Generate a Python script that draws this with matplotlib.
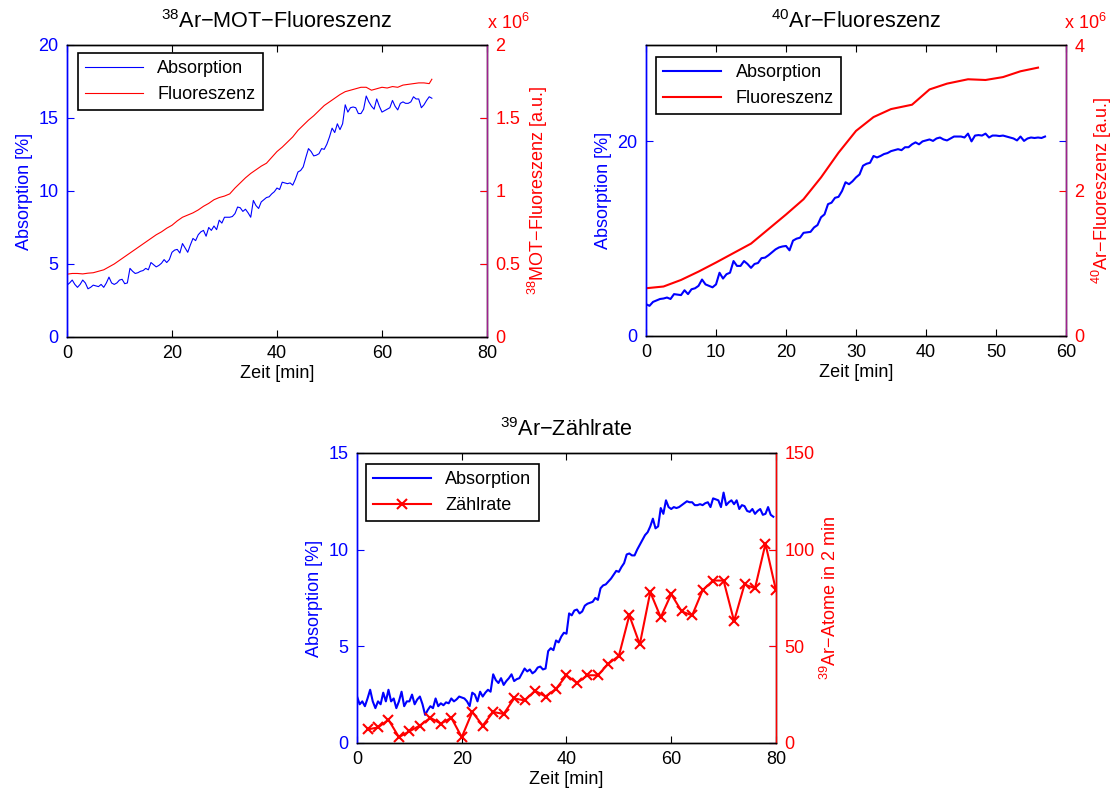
import matplotlib
matplotlib.use('Agg')
import matplotlib.pyplot as plt
import numpy as np

plt.rcParams['font.family'] = ['Liberation Sans', 'DejaVu Sans']
plt.rcParams['mathtext.default'] = 'regular'
plt.rcParams['font.size'] = 13

# 38Ar panel: absorption every 0.5 min, fluorescence (x 1e6) every min
abs38 = [3.55, 3.7, 3.9, 3.6, 3.4, 3.6, 3.9, 3.7, 3.3, 3.4, 3.55, 3.5, 3.45, 3.6, 3.4, 3.7,
         4.1, 3.7, 3.6, 3.7, 3.9, 3.95, 3.65, 3.7, 4.7, 4.5, 4.35, 4.4, 4.5, 4.55, 4.7, 4.6,
         5.1, 4.95, 4.8, 4.9, 5.05, 5.3, 5.1, 5.3, 5.8, 5.95, 6.0, 5.75, 6.4, 6.1, 5.8, 6.3,
         6.75, 6.6, 7.0, 7.2, 7.3, 6.9, 7.5, 7.3, 7.6, 7.35, 8.0, 7.8, 8.2, 8.2, 8.2, 8.25,
         8.45, 8.9, 8.85, 8.6, 8.75, 8.5, 8.2, 9.35, 9.0, 8.8, 9.25, 9.4, 9.55, 9.6, 9.8, 9.95,
         10.2, 10.1, 10.6, 10.55, 10.5, 10.55, 10.4, 10.8, 11.3, 11.4, 11.65, 12.3, 12.9, 12.7,
         12.4, 12.45, 12.55, 12.9, 12.85, 13.2, 13.7, 14.3, 14.0, 14.6, 14.2, 14.6, 15.9, 15.4,
         15.7, 15.75, 15.7, 15.3, 15.3, 15.6, 16.5, 16.1, 15.8, 15.6, 16.3, 15.8, 15.4, 15.5,
         15.6, 15.7, 16.2, 15.8, 15.55, 16.0, 16.1, 16.0, 16.0, 16.1, 16.45, 16.3, 16.3, 15.7,
         15.9, 16.2, 16.45, 16.35]
t_abs38 = np.arange(len(abs38)) * 0.5

fl38 = [0.43, 0.435, 0.435, 0.432, 0.437, 0.44, 0.45, 0.46, 0.48, 0.50, 0.525, 0.55, 0.575,
        0.60, 0.625, 0.65, 0.675, 0.70, 0.72, 0.745, 0.765, 0.795, 0.82, 0.835, 0.85, 0.87,
        0.895, 0.915, 0.94, 0.955, 0.965, 0.98, 1.02, 1.055, 1.09, 1.12, 1.145, 1.17, 1.19,
        1.23, 1.27, 1.30, 1.335, 1.37, 1.415, 1.45, 1.485, 1.515, 1.55, 1.585, 1.61, 1.635,
        1.66, 1.68, 1.69, 1.70, 1.71, 1.71, 1.69, 1.70, 1.71, 1.705, 1.715, 1.71, 1.725,
        1.73, 1.735, 1.74, 1.74, 1.735, 1.765]
t_fl38 = list(range(70)) + [69.5]

# 40Ar panel
abs40 = [3.26, 3.1, 3.5, 3.65, 3.8, 3.85, 3.95, 3.8, 4.3, 4.25, 4.2, 4.7, 4.3, 4.8, 4.9, 5.15,
         5.8, 5.3, 5.15, 5.0, 5.3, 6.5, 5.9, 6.35, 6.5, 7.7, 7.2, 7.2, 7.7, 7.4, 7.0, 7.4,
         7.5, 8.0, 8.05, 8.3, 8.6, 8.9, 9.1, 9.2, 9.25, 8.8, 9.8, 10.0, 10.1, 10.6, 10.65, 10.7,
         11.15, 11.4, 12.2, 12.5, 13.55, 13.7, 14.2, 14.3, 14.9, 15.8, 15.6, 15.9, 16.3, 16.6,
         17.5, 17.7, 17.8, 18.5, 18.35, 18.5, 18.7, 18.8, 19.0, 19.1, 19.2, 19.1, 19.4, 19.4,
         19.7, 19.9, 19.7, 20.0, 20.1, 20.2, 20.05, 20.3, 20.4, 20.2, 20.1, 20.3, 20.5, 20.5,
         20.5, 20.4, 20.8, 20.0, 20.6, 20.65, 20.6, 20.8, 20.4, 20.6, 20.6, 20.55, 20.6, 20.5,
         20.4, 20.3, 20.1, 20.5, 20.05, 20.3, 20.4, 20.35, 20.4, 20.35, 20.5]
t_abs40 = np.arange(len(abs40)) * 0.5

t_fl40 = [0, 2.5, 5, 7.5, 10, 12.5, 15, 17.5, 20, 22.5, 25, 27.5, 30, 32.5, 35, 38, 40.5,
          43, 46, 48.5, 51, 53.5, 56]
fl40 = [0.656, 0.68, 0.77, 0.885, 1.01, 1.14, 1.27, 1.47, 1.67, 1.88, 2.18, 2.52, 2.82,
        3.01, 3.12, 3.18, 3.39, 3.47, 3.53, 3.52, 3.56, 3.64, 3.69]

# 39Ar panel
abs39 = [2.4, 2.0, 2.15, 1.9, 2.3, 2.75, 2.15, 1.8, 2.15, 2.0, 2.6, 2.15, 2.75, 2.15, 2.3, 1.8,
         2.15, 2.65, 1.9, 2.15, 2.15, 2.5, 2.0, 2.25, 2.4, 2.0, 1.45, 1.7, 1.9, 1.8, 2.3, 1.9,
         2.05, 1.95, 2.1, 2.05, 2.3, 2.15, 2.25, 2.4, 2.35, 2.3, 2.15, 1.9, 2.6, 2.5, 2.15, 2.65,
         2.4, 2.6, 2.75, 2.65, 3.55, 3.25, 3.1, 3.35, 3.0, 3.2, 3.35, 3.55, 3.2, 3.3, 3.35, 3.6,
         3.85, 3.7, 3.8, 3.6, 3.7, 3.9, 3.95, 3.8, 3.85, 4.75, 4.9, 4.8, 5.3, 5.2, 5.5, 5.7,
         5.65, 6.7, 6.6, 6.85, 6.9, 6.7, 6.8, 7.1, 7.2, 7.25, 7.3, 7.5, 7.4, 8.0, 8.15, 8.2,
         8.35, 8.5, 8.7, 8.9, 8.85, 9.1, 9.3, 9.75, 9.8, 9.7, 9.7, 10.0, 10.25, 10.5, 10.75, 10.9,
         11.2, 11.6, 11.1, 11.2, 12.15, 11.85, 12.55, 12.2, 12.1, 12.2, 12.15, 12.2, 12.3, 12.4,
         12.5, 12.45, 12.45, 12.3, 12.3, 12.35, 12.3, 12.4, 12.45, 12.2, 12.65, 12.6, 12.55, 12.2,
         12.95, 12.3, 12.45, 12.55, 12.35, 12.55, 12.1, 12.3, 12.25, 12.0, 11.95, 12.1, 11.85, 12.0,
         12.1, 11.8, 11.85, 12.2, 11.8, 11.7]
t_abs39 = np.arange(len(abs39)) * 0.5

t_count = np.arange(2, 81, 2)
counts = [7, 8, 12, 3, 6, 9, 13, 10, 13, 3, 16, 9, 16, 15, 23, 22, 27, 24, 28, 35,
          31, 35, 35, 41, 45, 66, 51, 78, 65, 77, 68, 66, 79, 84, 84, 63, 82, 80, 103, 79]

blue = '#0000ff'
red = '#ff0000'
purple = '#a0208f'


def style(ax, ax2, rcol):
    ax.tick_params(axis='y', colors=blue, direction='in', length=5, right=True, pad=6)
    ax.tick_params(axis='x', colors='black', direction='in', length=5, top=True, pad=6)
    ax2.tick_params(axis='y', colors=red, direction='in', length=5, pad=6)
    ax.spines['left'].set_color(blue)
    ax2.spines['left'].set_color(blue)
    ax2.spines['right'].set_color(rcol)
    for a in (ax, ax2):
        for s in a.spines.values():
            s.set_linewidth(1.0)


fig = plt.figure(figsize=(11.2, 7.98), dpi=100)

# ---- 38Ar ----
ax = fig.add_axes([0.0598, 0.5777, 0.375, 0.366])
ax2 = ax.twinx()
l1, = ax.plot(t_abs38, abs38, color=blue, lw=0.8)
l2, = ax2.plot(t_fl38, fl38, color=red, lw=0.8)
ax.set_xlim(0, 80)
ax.set_ylim(0, 20)
ax2.set_ylim(0, 2)
ax.set_xticks([0, 20, 40, 60, 80])
ax.set_yticks([0, 5, 10, 15, 20])
ax2.set_yticks([0, 0.5, 1, 1.5, 2])
ax2.set_yticklabels(['0', '0.5', '1', '1.5', '2'])
ax.set_xlabel('Zeit [min]', labelpad=2)
ax.set_ylabel('Absorption [%]', color=blue, labelpad=4)
ax2.set_ylabel('$^{38}$MOT\u2212Fluoreszenz [a.u.]', color=red, labelpad=4)
ax.set_title('$^{38}$Ar\u2212MOT\u2212Fluoreszenz', pad=12)
ax2.text(1.0, 1.04, 'x 10$^6$', color=red, transform=ax2.transAxes, ha='left', va='bottom')
style(ax, ax2, purple)
ax2.legend([l1, l2], ['Absorption', 'Fluoreszenz'], loc='upper left',
           bbox_to_anchor=(0.026, 0.973), borderaxespad=0, fancybox=False,
           edgecolor='black', framealpha=1, handlelength=3.2).get_frame().set_linewidth(1.2)

# ---- 40Ar ----
ax = fig.add_axes([0.5768, 0.579, 0.375, 0.3645])
ax2 = ax.twinx()
l1, = ax.plot(t_abs40, abs40, color=blue, lw=1.5)
l2, = ax2.plot(t_fl40, fl40, color=red, lw=1.5)
ax.set_xlim(0, 60)
ax.set_ylim(0, 29.9)
ax2.set_ylim(0, 4)
ax.set_xticks([0, 10, 20, 30, 40, 50, 60])
ax.set_yticks([0, 20])
ax2.set_yticks([0, 2, 4])
ax.set_xlabel('Zeit [min]', labelpad=2)
ax.set_ylabel('Absorption [%]', color=blue, labelpad=4)
ax2.set_ylabel('$^{40}$Ar\u2212Fluoreszenz [a.u.]', color=red, labelpad=4)
ax.set_title('$^{40}$Ar\u2212Fluoreszenz', pad=12)
ax2.text(0.995, 1.04, 'x 10$^6$', color=red, transform=ax2.transAxes, ha='left', va='bottom')
style(ax, ax2, purple)
ax2.legend([l1, l2], ['Absorption', 'Fluoreszenz'], loc='upper left',
           bbox_to_anchor=(0.024, 0.96), borderaxespad=0, fancybox=False,
           edgecolor='black', framealpha=1, handlelength=3.2).get_frame().set_linewidth(1.2)

# ---- 39Ar ----
ax = fig.add_axes([0.3188, 0.069, 0.374, 0.3634])
ax2 = ax.twinx()
l1, = ax.plot(t_abs39, abs39, color=blue, lw=1.5)
l2, = ax2.plot(t_count, counts, color=red, lw=1.5, marker='x', ms=7, mew=1.5)
ax.set_xlim(0, 80)
ax.set_ylim(0, 15)
ax2.set_ylim(0, 150)
ax.set_xticks([0, 20, 40, 60, 80])
ax.set_yticks([0, 5, 10, 15])
ax2.set_yticks([0, 50, 100, 150])
ax.set_xlabel('Zeit [min]', labelpad=2)
ax.set_ylabel('Absorption [%]', color=blue, labelpad=4)
ax2.set_ylabel('$^{39}$Ar\u2212Atome in 2 min', color=red, labelpad=4)
ax.set_title('$^{39}$Ar\u2212Z\u00e4hlrate', pad=12)
style(ax, ax2, red)
ax2.legend([l1, l2], ['Absorption', 'Z\u00e4hlrate'], loc='upper left',
           bbox_to_anchor=(0.021, 0.962), borderaxespad=0, fancybox=False,
           edgecolor='black', framealpha=1, handlelength=3.2,
           numpoints=1).get_frame().set_linewidth(1.2)

fig.savefig('out.png', dpi=100)
